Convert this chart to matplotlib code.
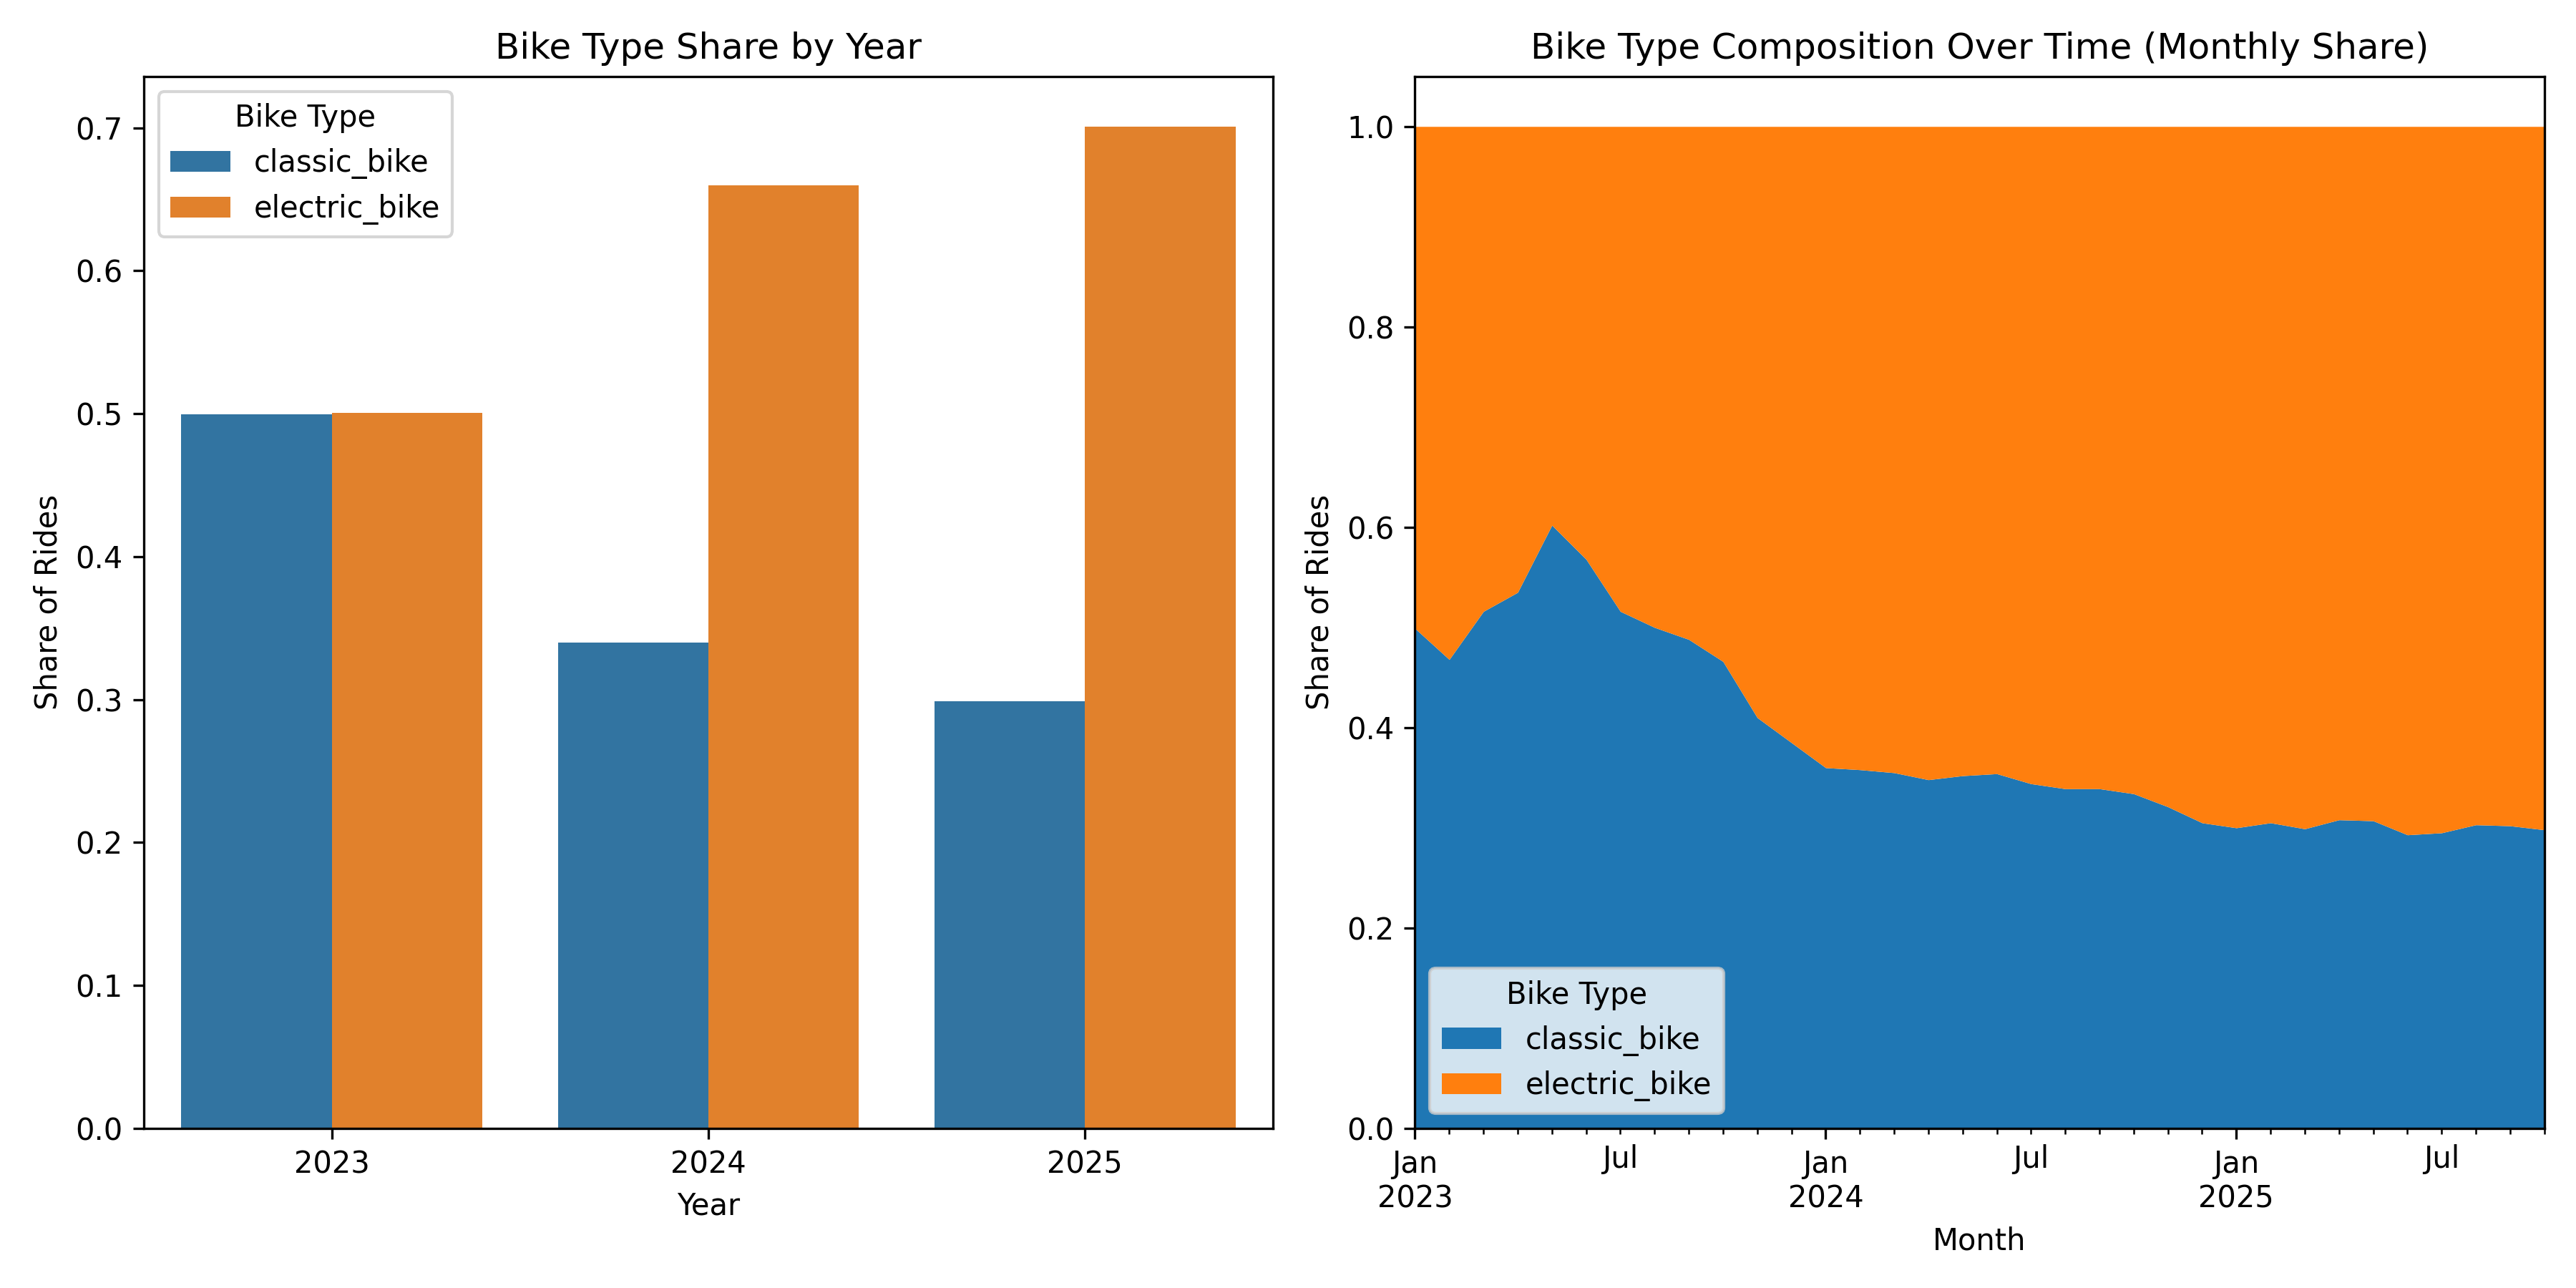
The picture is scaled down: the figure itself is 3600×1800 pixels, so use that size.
import pandas as pd
import matplotlib
matplotlib.use("Agg")
import matplotlib.pyplot as plt
import seaborn as sns

# Yearly share per bike type
years = ["2023", "2024", "2025"]
classic_year = [0.4995, 0.340, 0.299]
electric_year = [0.5005, 0.660, 0.701]

# Monthly share of classic bikes, Jan 2023 - Oct 2025
months = pd.date_range("2023-01-01", periods=34, freq="MS")
classic_month = [
    0.499, 0.468, 0.516, 0.535, 0.602, 0.568, 0.516, 0.500, 0.488, 0.466, 0.410, 0.385,
    0.360, 0.358, 0.355, 0.348, 0.352, 0.354, 0.344, 0.339, 0.339, 0.334, 0.321, 0.305,
    0.300, 0.305, 0.299, 0.308, 0.307, 0.293, 0.295, 0.303, 0.302, 0.298,
]
electric_month = [1 - v for v in classic_month]

yearly = pd.DataFrame({
    "year": years * 2,
    "rideable_type": ["classic_bike"] * 3 + ["electric_bike"] * 3,
    "share": classic_year + electric_year,
})
monthly = pd.DataFrame({"classic_bike": classic_month, "electric_bike": electric_month},
                       index=months)

fig, axes = plt.subplots(1, 2, figsize=(12, 6))

# Barras por año
sns.barplot(data=yearly, x="year", y="share", hue="rideable_type", ax=axes[0])
axes[0].set_title("Bike Type Share by Year")
axes[0].set_xlabel("Year")
axes[0].set_ylabel("Share of Rides")
axes[0].legend(title="Bike Type", loc="upper left")

# Área apilada mensual
monthly.plot(kind="area", stacked=True, ax=axes[1], linewidth=0)
axes[1].set_title("Bike Type Composition Over Time (Monthly Share)")
axes[1].set_xlabel("Month")
axes[1].set_ylabel("Share of Rides")
axes[1].set_ylim(0, 1.05)
axes[1].legend(title="Bike Type", loc="lower left")

plt.subplots_adjust(left=0.0558, right=0.9877, bottom=0.1239, top=0.9407, wspace=0.1257)
plt.savefig("out.png", dpi=300)
